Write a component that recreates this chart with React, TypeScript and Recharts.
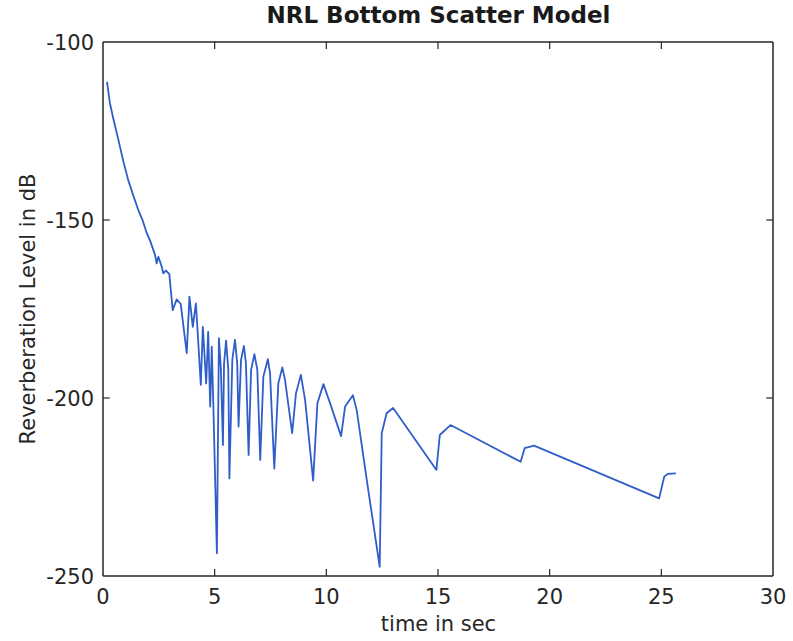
import React from 'react';
import { LineChart, Line, XAxis, YAxis, ReferenceLine } from 'recharts';

const timeSec = [
  0.18, 0.31, 0.46, 0.69, 0.91, 1.13, 1.36, 1.58, 1.78, 1.96, 2.11, 2.33, 2.4, 2.48, 2.63, 2.7, 2.82, 2.97,
  3.12, 3.3, 3.48, 3.75, 3.87, 4.02, 4.16, 4.38, 4.47, 4.62, 4.71, 4.8, 4.87, 4.95, 5.1, 5.19, 5.28, 5.37,
  5.42, 5.51, 5.61, 5.66, 5.79, 5.91, 6.01, 6.07, 6.18, 6.31, 6.4, 6.52, 6.63, 6.78, 6.91, 7.04, 7.18, 7.38,
  7.48, 7.67, 7.85, 8.03, 8.15, 8.47, 8.64, 8.86, 9.05, 9.41, 9.6, 9.87, 10.17, 10.66, 10.84, 11.19, 11.36,
  11.81, 12.39, 12.48, 12.7, 12.99, 14.93, 15.08, 15.56, 18.7, 18.88, 19.3, 24.9, 25.13, 25.28, 25.65,
];
const levelDb = [
  -111.2, -117.2, -121.5, -127.5, -133.5, -138.8, -143.2, -147.2, -150.2, -153.7, -155.8, -159.8, -162.2,
  -160.3, -163.1, -165, -164.2, -165.2, -175.3, -172.3, -173.6, -187.4, -171.5, -180, -173.4, -196.3, -180,
  -195.9, -181.4, -202.4, -185.6, -204.3, -243.6, -183.2, -192.1, -213.2, -190.3, -183.9, -192.1, -222.6,
  -189.3, -183.7, -190.3, -208, -189.3, -185.4, -190.3, -216, -192.1, -187.7, -192.1, -217.4, -194, -189.1,
  -193.1, -219.8, -195.9, -191.4, -194.9, -209.9, -198.7, -193.5, -200.6, -223.2, -201.5, -196.1, -201.5,
  -210.7, -202.4, -199.2, -203.4, -223, -247.4, -209.9, -204.3, -202.8, -220.2, -210.4, -207.6, -217.9,
  -214.1, -213.4, -228.2, -222.1, -221.3, -221.2,
];
const xTicks = [0, 5, 10, 15, 20, 25, 30];
const yTicks = [-250, -200, -150, -100];
const xDomain = [0, 30];
const yDomain = [-250, -100];

const title = 'NRL Bottom Scatter Model';
const xLabel = 'time in sec';
const yLabel = 'Reverberation Level in dB';

const data = timeSec.map((t, i) => ({ t, db: levelDb[i] }));

const axisColor = '#262626';
const font = '"DejaVu Sans", sans-serif';
// inward tick length, in data units (about 7px each way)
const tickLenX = 0.3;
const tickLenY = 2;

const BottomTick = ({ x, y, payload }: any) => (
  <text x={x} y={y + 28} textAnchor="middle" fontSize={21} fontFamily={font} fill={axisColor}>
    {payload.value}
  </text>
);

const LeftTick = ({ x, y, payload }: any) => (
  <text x={x - 9} y={y + 8} textAnchor="end" fontSize={21} fontFamily={font} fill={axisColor}>
    {payload.value}
  </text>
);

const axisLineStyle = { stroke: axisColor, strokeWidth: 1.5 };

const App: React.FC = () => {
  const innerX = xTicks.slice(1, -1);
  const innerY = yTicks.slice(1, -1);
  return (
    <div style={{ position: 'absolute', left: 0, top: 0, width: 793, height: 641, background: '#fff' }}>
      <div
        style={{
          position: 'absolute', left: 0, width: 793, top: 2, textAlign: 'center',
          fontFamily: font, fontWeight: 'bold', fontSize: 23, color: '#1a1a1a',
          paddingLeft: 84, boxSizing: 'border-box',
        }}
      >
        {title}
      </div>
      <div
        style={{
          position: 'absolute', left: 0, width: 793, top: 612, textAlign: 'center',
          fontFamily: font, fontSize: 21, color: axisColor, paddingLeft: 84, boxSizing: 'border-box',
        }}
      >
        {xLabel}
      </div>
      <div
        style={{
          position: 'absolute', left: 28, top: 309, transform: 'translate(-50%, -50%) rotate(-90deg)',
          whiteSpace: 'nowrap', fontFamily: font, fontSize: 21, color: axisColor,
        }}
      >
        {yLabel}
      </div>
      <div style={{ position: 'absolute', left: 0, top: 0 }}>
        <LineChart width={793} height={641} data={data} margin={{ top: 41, right: 19, bottom: 25, left: 43 }}>
          <XAxis
            xAxisId="b" dataKey="t" type="number" domain={xDomain} ticks={xTicks} height={40}
            tickSize={0} tickMargin={0} tickLine={false} tick={<BottomTick />}
            axisLine={axisLineStyle} allowDataOverflow
          />
          <XAxis
            xAxisId="t" orientation="top" dataKey="t" type="number" domain={xDomain}
            height={1} tick={false} tickLine={false} axisLine={axisLineStyle}
          />
          <YAxis
            yAxisId="l" type="number" domain={yDomain} ticks={yTicks} width={60}
            tickSize={0} tickMargin={0} tickLine={false} tick={<LeftTick />}
            axisLine={axisLineStyle} allowDataOverflow
          />
          <YAxis
            yAxisId="r" orientation="right" type="number" domain={yDomain}
            width={1} tick={false} tickLine={false} axisLine={axisLineStyle}
          />
          {innerX.map((v) => (
            <ReferenceLine
              key={`xb${v}`} xAxisId="b" yAxisId="l" stroke={axisColor} strokeWidth={1.2}
              segment={[{ x: v, y: yDomain[0] }, { x: v, y: yDomain[0] + tickLenY }]}
            />
          ))}
          {innerX.map((v) => (
            <ReferenceLine
              key={`xt${v}`} xAxisId="b" yAxisId="l" stroke={axisColor} strokeWidth={1.2}
              segment={[{ x: v, y: yDomain[1] }, { x: v, y: yDomain[1] - tickLenY }]}
            />
          ))}
          {innerY.map((v) => (
            <ReferenceLine
              key={`yl${v}`} xAxisId="b" yAxisId="l" stroke={axisColor} strokeWidth={1.2}
              segment={[{ x: xDomain[0], y: v }, { x: xDomain[0] + tickLenX, y: v }]}
            />
          ))}
          {innerY.map((v) => (
            <ReferenceLine
              key={`yr${v}`} xAxisId="b" yAxisId="l" stroke={axisColor} strokeWidth={1.2}
              segment={[{ x: xDomain[1], y: v }, { x: xDomain[1] - tickLenX, y: v }]}
            />
          ))}
          <Line
            xAxisId="b" yAxisId="l" dataKey="db" type="linear" stroke="#2f5ec8" strokeWidth={1.8}
            strokeLinejoin="round" dot={false} isAnimationActive={false}
          />
        </LineChart>
      </div>
    </div>
  );
};

export default App;
